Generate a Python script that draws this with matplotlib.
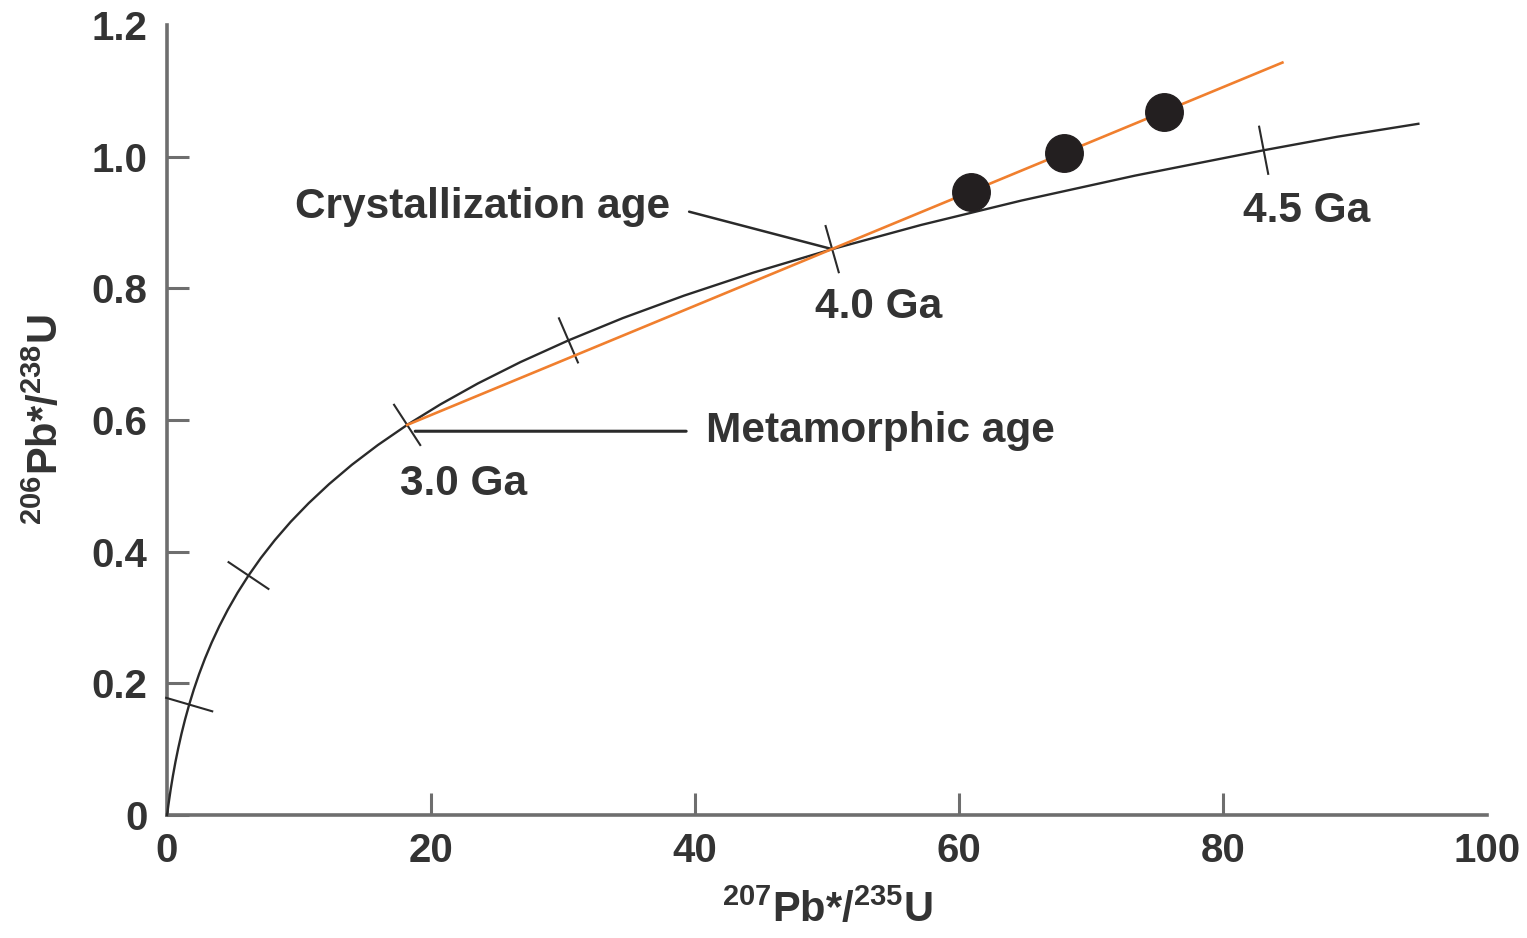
import numpy as np
import matplotlib
matplotlib.use('Agg')
from matplotlib import pyplot as plt

# concordia curve, points (207Pb*/235U, 206Pb*/238U)
conc_x = [0, 0.1035, 0.279, 0.4468, 0.636, 0.8507, 1.093, 1.3673, 1.677, 2.028,
          2.425, 2.874, 3.381, 3.955, 4.604, 5.338, 6.17, 7.108, 8.17, 9.371,
          10.73, 12.27, 14.00, 15.97, 18.19, 20.71, 23.55, 26.77, 30.41, 34.52,
          39.17, 44.43, 50.39, 57.12, 64.73, 73.34, 83.08, 88.65, 94.8]
conc_y = [0, 0.01563, 0.0395, 0.0599, 0.0807, 0.1018, 0.1234, 0.1454, 0.1678, 0.1907,
          0.2140, 0.2378, 0.2620, 0.2867, 0.3119, 0.3376, 0.3638, 0.3905, 0.4177, 0.4455,
          0.4737, 0.5026, 0.5320, 0.5620, 0.5926, 0.6238, 0.6556, 0.6880, 0.7210, 0.7548,
          0.7890, 0.8240, 0.8596, 0.8963, 0.9334, 0.9713, 1.0098, 1.0303, 1.050]

# age ticks on the curve: 1, 2, 3, 3.5, 4, 4.5 Ga
tick_x = [1.677, 6.17, 18.19, 30.41, 50.39, 83.08]

# discordia line and zircon analyses
disc_x = [18.19, 84.5]
disc_y = [0.5926, 1.143]
pts_x = [60.9, 67.95, 75.5]
pts_y = [0.947, 1.006, 1.068]

x_ticks = [0, 20, 40, 60, 80, 100]
y_ticks = [0, 0.2, 0.4, 0.6, 0.8, 1.0, 1.2]
y_tick_labels = ['0', '0.2', '0.4', '0.6', '0.8', '1.0', '1.2']

txt_col = '#333333'
axis_col = '#6e6e6e'
line_col = '#2a2a2a'
plt.rcParams['font.family'] = ['Liberation Sans', 'DejaVu Sans']
plt.rcParams['mathtext.fontset'] = 'custom'
plt.rcParams['mathtext.bf'] = 'Liberation Sans:bold'

fig = plt.figure(figsize=(15.27, 9.38), dpi=100)
ax = fig.add_axes([0.1094, 0.1311, 0.9738 - 0.1094, 0.9733 - 0.1311])
ax.set_xlim(0, 100)
ax.set_ylim(0, 1.2)

for s in ['top', 'right']:
    ax.spines[s].set_visible(False)
for s in ['left', 'bottom']:
    ax.spines[s].set_color(axis_col)
    ax.spines[s].set_linewidth(2.6)

ax.set_xticks(x_ticks)
ax.set_xticklabels([str(v) for v in x_ticks])
ax.set_yticks(y_ticks)
ax.set_yticklabels(y_tick_labels)
ax.tick_params(direction='in', length=16, width=2.2, color=axis_col,
               labelsize=29, labelcolor=txt_col, pad=12)
ax.tick_params(axis='y', pad=14)
for lab in ax.get_xticklabels() + ax.get_yticklabels():
    lab.set_fontweight('bold')
# no tick marks at the far ends of the axes
ax.xaxis.get_major_ticks()[-1].tick1line.set_visible(False)
ax.yaxis.get_major_ticks()[-1].tick1line.set_visible(False)

ax.plot(conc_x, conc_y, color=line_col, lw=1.7, zorder=3, clip_on=False)
ax.plot(disc_x, disc_y, color='#f07f2e', lw=1.9, zorder=4)
ax.plot(pts_x, pts_y, 'o', color='#231f20', ms=27, zorder=5)

# short perpendicular ticks across the curve, drawn in display space
trans = ax.transData
inv = trans.inverted()
half = 24
for tx in tick_x:
    i = conc_x.index(tx)
    p = trans.transform((conc_x[i], conc_y[i]))
    a = trans.transform((conc_x[i - 1], conc_y[i - 1]))
    b = trans.transform((conc_x[i + 1], conc_y[i + 1]))
    t = (b - a) / np.hypot(*(b - a))
    n = np.array([-t[1], t[0]])
    ends = inv.transform([p - half * n, p + half * n])
    ax.plot(ends[:, 0], ends[:, 1], color=line_col, lw=1.5, zorder=3, clip_on=False)

lab_kw = dict(fontsize=30.5, fontweight='bold', color=txt_col)
ax.text(17.65, 0.503, '3.0 Ga', ha='left', va='center', **lab_kw)
ax.text(49.1, 0.772, '4.0 Ga', ha='left', va='center', **lab_kw)
ax.text(81.5, 0.918, '4.5 Ga', ha='left', va='center', **lab_kw)

ax.annotate('Crystallization age', xy=(conc_x[32], conc_y[32]), xytext=(9.7, 0.924),
            ha='left', va='center', **lab_kw,
            arrowprops=dict(arrowstyle='-', color=line_col, lw=1.8,
                            relpos=(1, 0.5), shrinkA=12, shrinkB=0))
ax.annotate('Metamorphic age', xy=(18.8, 0.583), xytext=(40.8, 0.583),
            ha='left', va='center', **lab_kw,
            arrowprops=dict(arrowstyle='-', color=line_col, lw=2.2,
                            relpos=(0, 0.5), shrinkA=12, shrinkB=0))

ax.set_xlabel(r'$^{\mathbf{207}}$Pb*/$^{\mathbf{235}}$U', fontsize=30, fontweight='bold',
              color=txt_col, labelpad=14)
ax.set_ylabel(r'$^{\mathbf{206}}$Pb*/$^{\mathbf{238}}$U', fontsize=30, fontweight='bold',
              color=txt_col, labelpad=18)

fig.savefig('out.png', dpi=100)
